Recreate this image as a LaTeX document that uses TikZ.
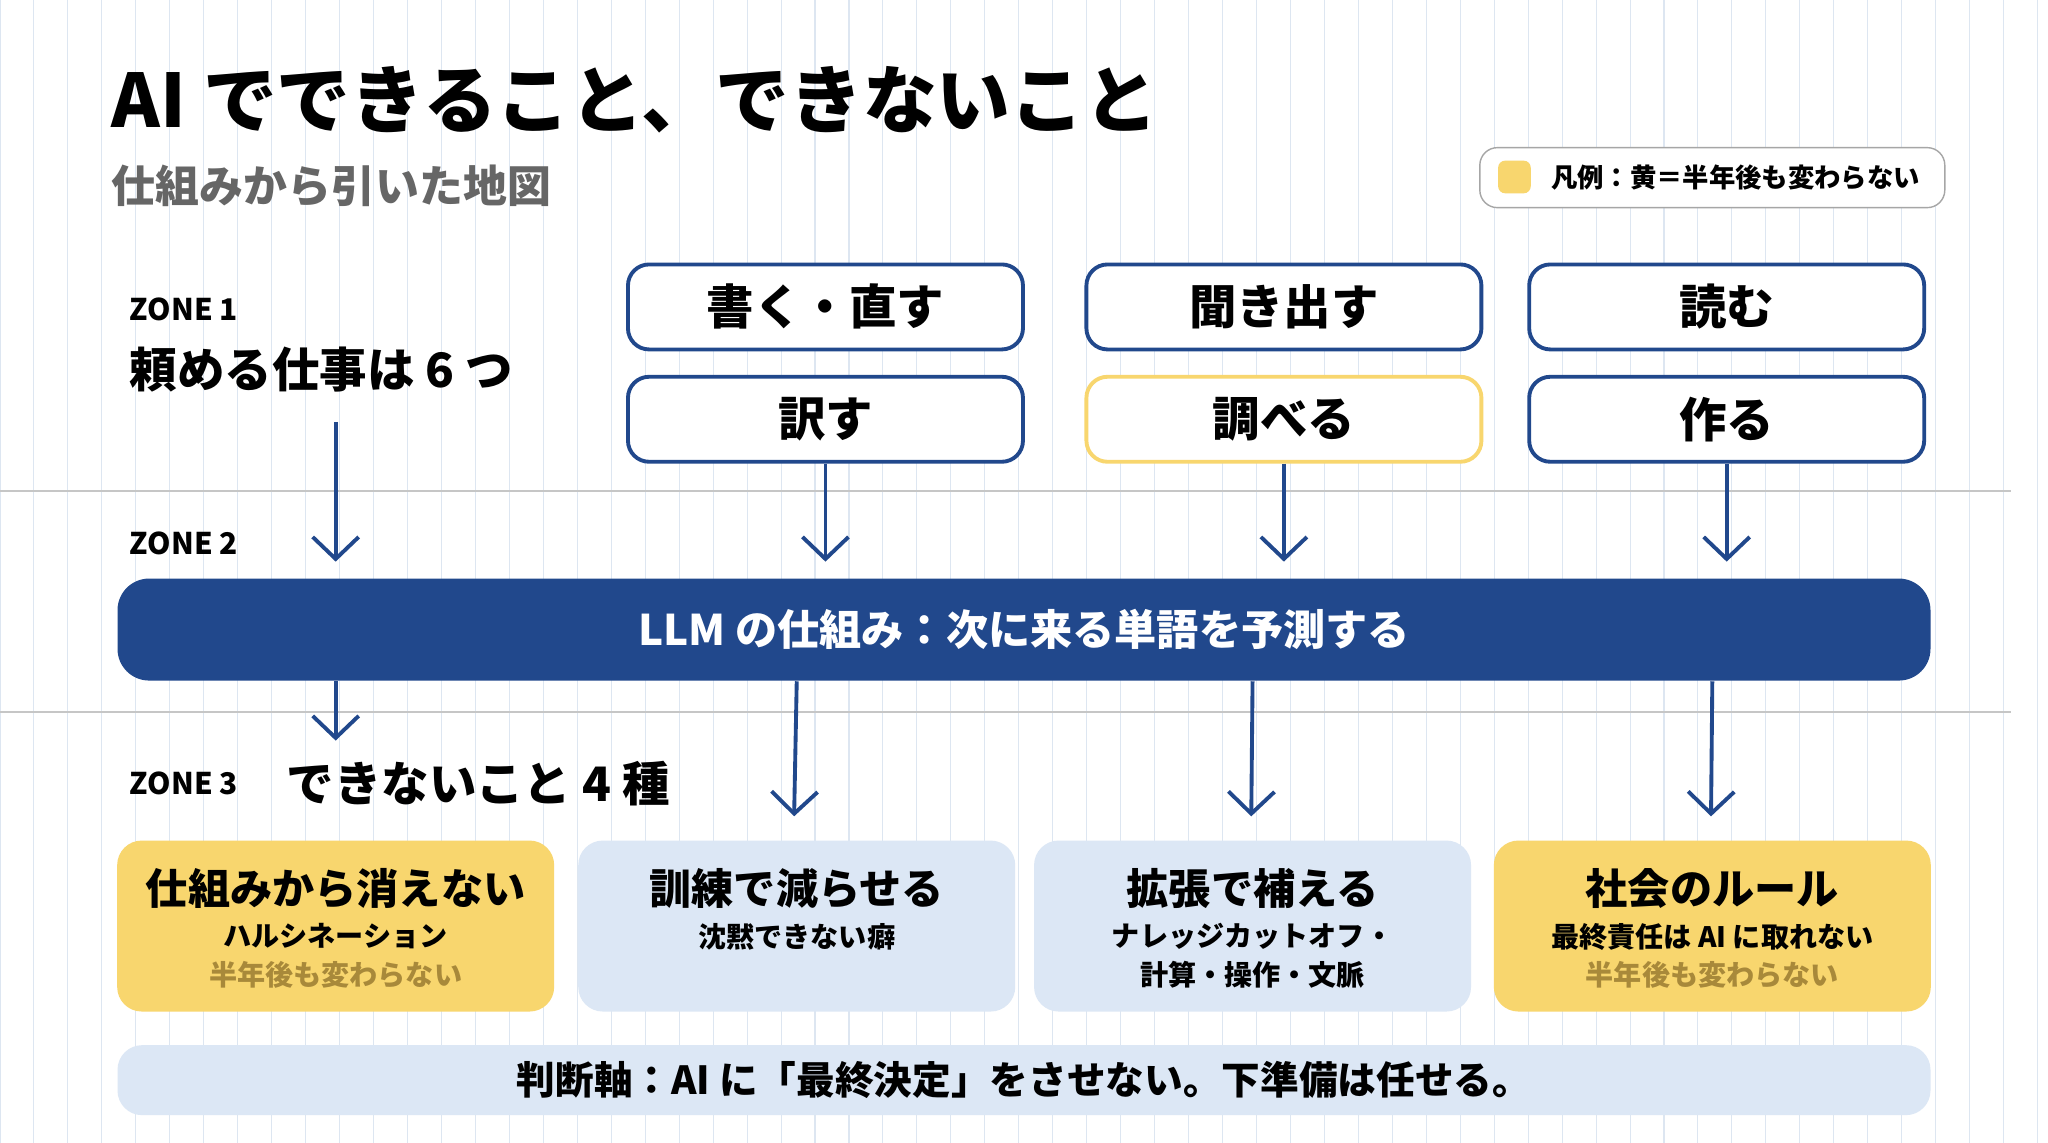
\documentclass[tikz,border=0pt]{standalone}
\usepackage{fontspec}
\setmainfont{Noto Sans CJK JP}
\usetikzlibrary{arrows.meta, positioning, calc}
\definecolor{navy}{HTML}{21488C}
\definecolor{pale}{HTML}{DCE7F5}
\definecolor{gold}{HTML}{F8D66E}
\definecolor{goldtext}{HTML}{A8893A}
\definecolor{gridc}{HTML}{DDE6F1}
\begin{document}
\begin{tikzpicture}[
  x=0.01306cm, y=-0.01306cm,
  task/.style = {draw=navy, line width=1.1pt, rounded corners=6pt, fill=white, minimum height=0.85cm, minimum width=3.95cm, font=\bfseries\fontsize{13.5}{15}\selectfont},
  limit/.style = {rounded corners=7pt, minimum height=1.71cm, minimum width=4.37cm, align=center, text=black},
  zone/.style = {anchor=west, font=\bfseries\fontsize{8.5}{10}\selectfont},
  arrow/.style = {draw=navy, line width=1.1pt, -{Straight Barb[length=2.2mm, width=4.6mm, line width=1.1pt]}},
  sub/.style = {font=\bfseries\fontsize{8}{10}\selectfont}
]
  % background and grid
  \useasboundingbox (0,0) rectangle (1568,875);
  \fill[white] (0,0) rectangle (1568,875);
  \draw[gridc, line width=0.3pt, step=26] (0,0) grid (1568,875);
  \draw[gray!45, line width=0.5pt] (0,376) -- (1540,376);
  \draw[gray!45, line width=0.5pt] (0,545) -- (1540,545);

  % title
  \node[anchor=west, font=\bfseries\fontsize{21}{24}\selectfont] (title) at (76,76) {AI でできること、できないこと};
  \node[anchor=west, text=gray!80!black, font=\bfseries\fontsize{12.5}{14}\selectfont] (subtitle) at (76,142) {仕組みから引いた地図};

  % legend
  \node[draw=gray!70, rounded corners=5pt, fill=white, minimum width=4.65cm, minimum height=0.6cm] (legend) at (1311,136) {};
  \fill[gold, rounded corners=2pt] (1147,123) rectangle (1172,148);
  \node[anchor=west, font=\bfseries\fontsize{7.5}{9}\selectfont] (legtext) at (1178,136) {凡例：黄＝半年後も変わらない};

  % zone 1
  \node[zone] (z1) at (90,237) {ZONE 1};
  \node[anchor=west, font=\bfseries\fontsize{13.5}{15}\selectfont] (z1text) at (90,283) {頼める仕事は 6 つ};
  \node[task] (write) at (632,235) {書く・直す};
  \node[task] (translate) at (632,321) {訳す};
  \node[task] (ask) at (983,235) {聞き出す};
  \node[task, draw=gold] (search) at (983,321) {調べる};
  \node[task] (read) at (1322,235) {読む};
  \node[task] (make) at (1322,321) {作る};

  % zone 2
  \node[zone] (z2) at (90,416) {ZONE 2};
  \node[fill=navy, rounded corners=9pt, minimum width=18.13cm, minimum height=1.02cm, text=white, font=\bfseries\fontsize{12}{14}\selectfont] (llm) at (784,482) {LLM の仕組み：次に来る単語を予測する};
  \coordinate (in1) at (257,323);
  \draw[arrow] (in1) -- (257,430);
  \draw[arrow] (translate) -- (632,430);
  \draw[arrow] (search) -- (983,430);
  \draw[arrow] (make) -- (1322,430);

  % zone 3
  \node[zone] (z3) at (90,600) {ZONE 3};
  \node[anchor=west, font=\bfseries\fontsize{13.5}{15}\selectfont] (z3text) at (210,600) {できないこと 4 種};
  \node[limit, fill=gold] (hallu) at (257,709) {};
  \node[limit, fill=pale] (train) at (610,709) {};
  \node[limit, fill=pale] (extend) at (959,709) {};
  \node[limit, fill=gold] (social) at (1311,709) {};

  \node[font=\bfseries\fontsize{12}{14}\selectfont] at (257,680) {仕組みから消えない};
  \node[sub] at (257,717) {ハルシネーション};
  \node[sub, text=goldtext] at (257,746) {半年後も変わらない};
  \node[font=\bfseries\fontsize{12}{14}\selectfont] at (610,680) {訓練で減らせる};
  \node[sub] at (610,717) {沈黙できない癖};
  \node[font=\bfseries\fontsize{12}{14}\selectfont] at (959,680) {拡張で補える};
  \node[sub] at (959,717) {ナレッジカットオフ・};
  \node[sub] at (959,746) {計算・操作・文脈};
  \node[font=\bfseries\fontsize{12}{14}\selectfont] at (1311,680) {社会のルール};
  \node[sub] at (1311,717) {最終責任は AI に取れない};
  \node[sub, text=goldtext] at (1311,746) {半年後も変わらない};

  \coordinate (out1) at (257,567);
  \draw[arrow] (llm.south -| out1) -- (out1);
  \draw[arrow] (llm.south -| train) -- (608,625);
  \draw[arrow] (llm.south -| extend) -- (958,625);
  \draw[arrow] (llm.south -| social) -- (1310,625);

  % rule
  \node[fill=pale, rounded corners=7pt, minimum width=18.13cm, minimum height=0.7cm, font=\bfseries\fontsize{11}{13}\selectfont] (rule) at (784,827) {判断軸：AI に「最終決定」をさせない。下準備は任せる。};
\end{tikzpicture}
\end{document}
